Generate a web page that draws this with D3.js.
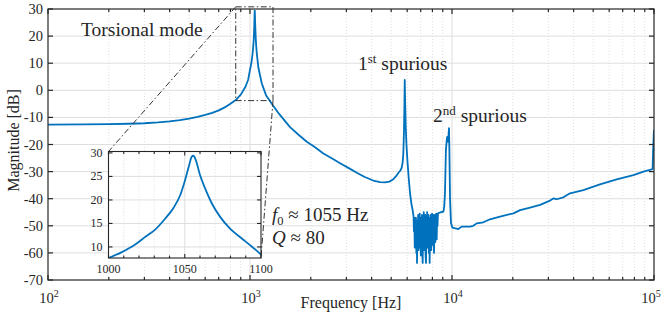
<!DOCTYPE html>
<html><head><meta charset="utf-8">
<script src="https://cdn.jsdelivr.net/npm/d3@7"></script>
<style>
body{margin:0;background:#fff}
svg{display:block}
text{font-family:"Liberation Serif","Times New Roman",serif;fill:#262626}
</style>
</head><body>
<svg id="c" width="662" height="320"></svg>
<script>
// ---------- data ----------
const freq = [
 100,150,200,250,300,350,400,450,500,550,600,650,700,750,800,850,900,950,980,
 1000,1008.8,1017.5,1024,1030.6,1037.1,1042.6,1047,1050.2,1052.9,1054.6,1055.7,1057.2,1060,1063.3,1067.7,1073.2,1079.7,1087.4,1093.9,1100,
 1143,1200,1300,1400,1578,1750,1910,2100,2308,2550,2792,3100,3377,3700,4075,4400,4656,4900,5124,5300,5423,5550,5637,5700,5743,5780,5809,5835,5860,5902,5950,6013,6100,6198,6300,6386,
 6450,6480,6510,6540,6570,6600,6630,6660,6690,6710,6740,6770,6800,6830,6860,6890,6920,6950,6980,7010,7040,7070,7100,7130,7160,7190,7220,7250,7280,7310,7340,7370,7400,7435,7470,7500,7530,7560,7590,7620,7650,7680,7710,7750,7790,7820,7850,7880,7910,7940,7970,8000,8030,8060,8090,8120,8150,8180,8210,8240,8270,8300,8330,8360,8400,8440,8480,8520,8560,
 8800,9063,9150,9230,9330,9420,9470,9530,9580,9620,9665,9700,9780,9886,10050,10300,10745,11170,12280,12740,13250,14290,15420,17290,20140,21740,24340,27300,30570,31760,32980,35590,38390,44700,54040,65370,79060,90220,95500,98400,99000,100000
];
const mag = [
 -12.7,-12.6,-12.5,-12.35,-12.15,-11.85,-11.45,-11.0,-10.45,-9.8,-9.1,-8.3,-7.4,-6.3,-5.0,-3.6,-1.6,1.3,4.0,
 7.65,8.9,10.5,12.1,13.7,16.0,18.3,21.0,24.2,27.4,29.2,29.4,28.5,25.3,22.5,19.3,16.4,13.9,11.8,10.1,8.4,
 2.6,-1.8,-5.6,-8.9,-13.6,-16.6,-19.0,-21.0,-23.3,-25.2,-26.9,-28.8,-30.4,-32.0,-33.3,-33.9,-34.0,-33.7,-32.8,-31.6,-30.5,-29.6,-28.5,-26.5,-23.3,-16,-7.3,3.8,-4,-13.4,-20,-25.7,-32,-38,-42,-44.2,
 -46.5,-52,-47,-58,-49,-55,-47,-60,-48,-63.7,-50,-56,-46,-59,-48,-54,-45.5,-58,-49,-61,-47,-55,-46,-60,-63.7,-48,-57,-45,-59,-47,-56,-46,-61,-63.7,-47,-55,-45,-58,-48,-54,-46,-60,-47,-63.7,-48,-56,-46,-59,-47,-55,-45.5,-57,-47,-54,-46,-58,-60,-47,-53,-46,-56,-47,-52,-45.5,-55,-46,-50,-45.5,-45.3,
 -45,-44.8,-43,-38,-22,-18.3,-17.2,-17.7,-19,-16,-14.0,-20.8,-40.5,-49,-50.7,-50.9,-51.2,-50.3,-50.3,-50,-49.1,-48.7,-47.6,-46.6,-45.4,-44.2,-43.3,-42.3,-40.7,-39.9,-40.2,-39.5,-38,-36.8,-34.7,-32.9,-31.3,-29.8,-29.4,-29.1,-22,-14.6
];
const yTicks = [30,20,10,0,-10,-20,-30,-40,-50,-60,-70];
const xTickExps = [2,3,4,5];
const insetYTicks = [10,15,20,25,30];
const insetXTicks = [1000,1050,1100];
const zoomFreq = [850,1300];
const zoomMag = [-3.8,30.8];

// ---------- layout ----------
const svg = d3.select('#c');
const X0=48, X1=654, Y0=9, Y1=280;
const x = d3.scaleLog().domain([1e2,1e5]).range([X0,X1]);
const y = d3.scaleLinear().domain([-70,30]).range([Y1,Y0]);
const AX='#262626', GRID='#dedede', BLUE='#0072BD';
const pts = freq.map((f,i)=>[f,mag[i]]);

const minorF=[];
[100,1000,10000].forEach(d=>{for(let k=2;k<=9;k++)minorF.push(k*d);});
const majorF=xTickExps.map(e=>Math.pow(10,e));

// grid
const g = svg.append('g');
g.selectAll('.mn').data(minorF).join('line')
 .attr('x1',d=>x(d)).attr('x2',d=>x(d)).attr('y1',Y0).attr('y2',Y1)
 .attr('stroke','#d6d6d6').attr('stroke-width',0.8).attr('stroke-dasharray','1,2');
g.selectAll('.mj').data(majorF.slice(1,-1)).join('line')
 .attr('x1',d=>x(d)).attr('x2',d=>x(d)).attr('y1',Y0).attr('y2',Y1)
 .attr('stroke',GRID).attr('stroke-width',1);
g.selectAll('.hy').data(yTicks.slice(1,-1)).join('line')
 .attr('x1',X0).attr('x2',X1).attr('y1',d=>y(d)).attr('y2',d=>y(d))
 .attr('stroke',GRID).attr('stroke-width',1);

// curve
svg.append('clipPath').attr('id','mc').append('rect').attr('x',X0).attr('y',Y0).attr('width',X1-X0).attr('height',Y1-Y0);
svg.append('path').datum(pts).attr('clip-path','url(#mc)')
 .attr('d',d3.line().x(d=>x(d[0])).y(d=>y(d[1])))
 .attr('fill','none').attr('stroke',BLUE).attr('stroke-width',1.8).attr('stroke-linejoin','round');

// axes box & ticks
const ax = svg.append('g').attr('stroke',AX).attr('stroke-width',1.2);
ax.append('rect').attr('x',X0).attr('y',Y0).attr('width',X1-X0).attr('height',Y1-Y0).attr('fill','none');
yTicks.forEach(v=>{
  ax.append('line').attr('x1',X0).attr('x2',X0+5).attr('y1',y(v)).attr('y2',y(v));
  ax.append('line').attr('x1',X1).attr('x2',X1-5).attr('y1',y(v)).attr('y2',y(v));
});
majorF.forEach(f=>{
  ax.append('line').attr('x1',x(f)).attr('x2',x(f)).attr('y1',Y1).attr('y2',Y1-5);
  ax.append('line').attr('x1',x(f)).attr('x2',x(f)).attr('y1',Y0).attr('y2',Y0+5);
});
minorF.forEach(f=>{
  ax.append('line').attr('x1',x(f)).attr('x2',x(f)).attr('y1',Y1).attr('y2',Y1-3);
  ax.append('line').attr('x1',x(f)).attr('x2',x(f)).attr('y1',Y0).attr('y2',Y0+3);
});

// tick labels
svg.selectAll('.yl').data(yTicks).join('text')
 .attr('x',X0-5).attr('y',d=>y(d)+5).attr('text-anchor','end').attr('font-size',14.5).text(d=>d);
xTickExps.forEach(e=>{
  const cx = Math.min(x(Math.pow(10,e))+1, 651);
  const t=svg.append('text').attr('x',cx).attr('y',303).attr('text-anchor','middle').attr('font-size',14.5);
  t.append('tspan').text('10');
  t.append('tspan').attr('font-size',10).attr('dy',-6).text(e);
});
svg.append('text').attr('x',(X0+X1)/2).attr('y',308).attr('text-anchor','middle').attr('font-size',16).text('Frequency [Hz]');
svg.append('text').attr('transform',`translate(19,${(Y0+Y1)/2-4}) rotate(-90)`).attr('text-anchor','middle').attr('font-size',16).text('Magnitude [dB]');

// ---------- inset ----------
const IX0=108.5, IX1=261, IY0=151.5, IY1=258;
const xi = d3.scaleLinear().domain([1000,1100]).range([IX0,IX1]);
const yi = d3.scaleLinear().domain([7.65,30.3]).range([IY1,IY0]);

// zoom box and connectors
const dd='6,2.5,1.5,2.5';
const bx0=x(zoomFreq[0]), bx1=x(zoomFreq[1]), by0=y(zoomMag[1]), by1=y(zoomMag[0]);
const zb=svg.append('g').attr('stroke','#333').attr('stroke-width',1).attr('fill','none').attr('stroke-dasharray',dd);
zb.append('rect').attr('x',bx0).attr('y',by0).attr('width',bx1-bx0).attr('height',by1-by0);
zb.append('line').attr('x1',bx0).attr('y1',by0).attr('x2',IX0).attr('y2',IY0);
zb.append('line').attr('x1',bx1).attr('y1',by1).attr('x2',IX1).attr('y2',IY1);

const ig=svg.append('g');
ig.append('rect').attr('x',IX0).attr('y',IY0).attr('width',IX1-IX0).attr('height',IY1-IY0).attr('fill','#fff');
const iMinor=d3.range(1010,1100,10).filter(v=>v!==1050);
ig.selectAll('.imn').data(iMinor).join('line')
 .attr('x1',d=>xi(d)).attr('x2',d=>xi(d)).attr('y1',IY0).attr('y2',IY1)
 .attr('stroke','#d6d6d6').attr('stroke-width',0.8).attr('stroke-dasharray','1,2');
ig.append('line').attr('x1',xi(1050)).attr('x2',xi(1050)).attr('y1',IY0).attr('y2',IY1).attr('stroke',GRID);
ig.selectAll('.ih').data(insetYTicks.filter(v=>v<30)).join('line')
 .attr('x1',IX0).attr('x2',IX1).attr('y1',d=>yi(d)).attr('y2',d=>yi(d)).attr('stroke',GRID);
ig.append('clipPath').attr('id','ic').append('rect').attr('x',IX0).attr('y',IY0).attr('width',IX1-IX0).attr('height',IY1-IY0);
ig.append('path').datum(pts.filter(p=>p[0]>=1000&&p[0]<=1100)).attr('clip-path','url(#ic)')
 .attr('d',d3.line().curve(d3.curveMonotoneX).x(d=>xi(d[0])).y(d=>yi(d[1])))
 .attr('fill','none').attr('stroke',BLUE).attr('stroke-width',1.8).attr('stroke-linejoin','round');
const iax=ig.append('g').attr('stroke',AX).attr('stroke-width',1.1);
iax.append('rect').attr('x',IX0).attr('y',IY0).attr('width',IX1-IX0).attr('height',IY1-IY0).attr('fill','none');
insetYTicks.forEach(v=>{
  iax.append('line').attr('x1',IX0).attr('x2',IX0+4).attr('y1',yi(v)).attr('y2',yi(v));
  iax.append('line').attr('x1',IX1).attr('x2',IX1-4).attr('y1',yi(v)).attr('y2',yi(v));
});
d3.range(1000,1101,10).forEach(f=>{
  const L = insetXTicks.includes(f)?4:2.5;
  iax.append('line').attr('x1',xi(f)).attr('x2',xi(f)).attr('y1',IY1).attr('y2',IY1-L);
  iax.append('line').attr('x1',xi(f)).attr('x2',xi(f)).attr('y1',IY0).attr('y2',IY0+L);
});
ig.selectAll('.iyl').data(insetYTicks).join('text')
 .attr('x',IX0-6).attr('y',d=>yi(d)+4).attr('text-anchor','end').attr('font-size',12).text(d=>d);
ig.selectAll('.ixl').data(insetXTicks).join('text')
 .attr('x',d=>xi(d)).attr('y',273).attr('text-anchor','middle').attr('font-size',12).text(d=>d);

// ---------- annotations ----------
svg.append('text').attr('x',81).attr('y',36).attr('font-size',19.5).text('Torsional mode');
const a1=svg.append('text').attr('x',358).attr('y',70).attr('font-size',19.5);
a1.append('tspan').text('1');
a1.append('tspan').attr('font-size',13).attr('dy',-7).text('st');
a1.append('tspan').attr('dy',7).text(' spurious');
const a2=svg.append('text').attr('x',433).attr('y',122).attr('font-size',19.5);
a2.append('tspan').text('2');
a2.append('tspan').attr('font-size',13).attr('dy',-7).text('nd');
a2.append('tspan').attr('dy',7).text(' spurious');
const a3=svg.append('text').attr('x',272).attr('y',221).attr('font-size',19);
a3.append('tspan').attr('font-style','italic').text('f');
a3.append('tspan').attr('font-size',12.5).attr('dy',3.5).text('0');
a3.append('tspan').attr('dy',-3.5).text(' ≈ 1055 Hz');
const a4=svg.append('text').attr('x',272).attr('y',244).attr('font-size',19);
a4.append('tspan').attr('font-style','italic').text('Q');
a4.append('tspan').text(' ≈ 80');
</script>
</body></html>
